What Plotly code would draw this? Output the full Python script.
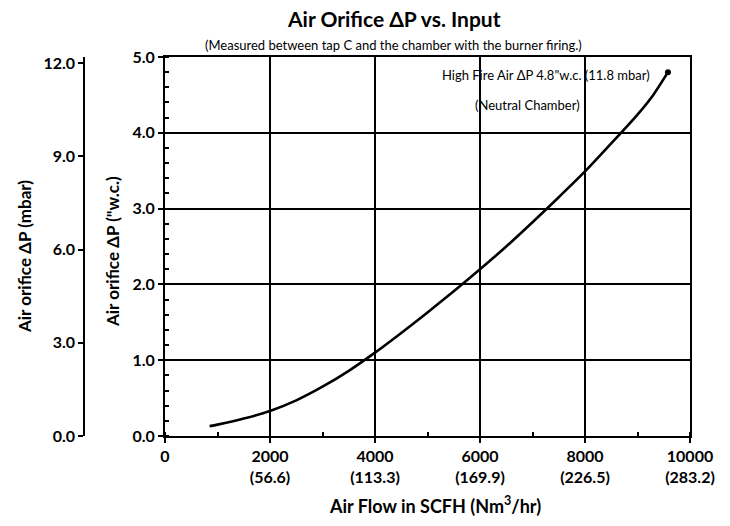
import plotly.graph_objects as go

# Data
flow_scfh = [850, 1000, 1500, 2000, 2500, 3000, 3500, 4000, 4500, 5000,
             5500, 6000, 6500, 7000, 7500, 8000, 8500, 9000, 9300, 9580]
dp_wc = [0.13, 0.15, 0.23, 0.33, 0.47, 0.65, 0.86, 1.10, 1.36, 1.63,
         1.91, 2.20, 2.50, 2.82, 3.15, 3.49, 3.86, 4.24, 4.50, 4.80]

x_tickvals = [0, 2000, 4000, 6000, 8000, 10000]
x_ticktext = ["0", "2000<br>(56.6)", "4000<br>(113.3)", "6000<br>(169.9)",
              "8000<br>(226.5)", "10000<br>(283.2)"]
y_tickvals = [0, 1, 2, 3, 4, 5]
y_ticktext = ["0.0", "1.0", "2.0", "3.0", "4.0", "5.0"]
mbar_tickvals = [0, 3, 6, 9, 12]
mbar_ticktext = ["0.0", "3.0", "6.0", "9.0", "12.0"]

FONT = "Lato"
W, H = 730, 526
ML, MR, MT, MB = 20, 40, 57, 90
PW = W - ML - MR
PH = H - MT - MB


def px(xpix):
    return (xpix - ML) / PW


def py(ypix):
    return (H - MB - ypix) / PH


fig = go.Figure()
fig.add_trace(go.Scatter(x=flow_scfh, y=dp_wc, mode="lines",
                         line=dict(color="black", width=2.6, shape="spline",
                                   smoothing=0.8),
                         showlegend=False, hoverinfo="skip"))
fig.add_trace(go.Scatter(x=[flow_scfh[-1]], y=[dp_wc[-1]], mode="markers",
                         marker=dict(color="black", size=6),
                         showlegend=False, hoverinfo="skip"))
# helper trace for the mbar axis
fig.add_trace(go.Scatter(x=[0], y=[0], yaxis="y2", mode="markers",
                         marker=dict(opacity=0), showlegend=False, hoverinfo="skip"))

mbar_top = 12 * 379 / (436 - 63)
TICKFONT = dict(family=FONT, size=16, weight="bold")
fig.update_layout(
    width=W, height=H,
    margin=dict(l=ML, r=MR, t=MT, b=MB),
    paper_bgcolor="white", plot_bgcolor="white",
    font=dict(family=FONT, color="black"),
    xaxis=dict(domain=[px(165), 1], range=[0, 10000], tickvals=x_tickvals,
               ticktext=x_ticktext, showgrid=True, gridcolor="black", gridwidth=1.5,
               showline=True, linecolor="black", linewidth=2, mirror=True,
               ticks="outside", ticklen=5, tickwidth=1.5, tickcolor="black",
               minor=dict(dtick=1000, ticks="inside", ticklen=4, tickwidth=1.5,
                          tickcolor="black", showgrid=False),
               tickfont=TICKFONT, zeroline=False, fixedrange=True),
    yaxis=dict(range=[0, 5], tickvals=y_tickvals, ticktext=y_ticktext,
               showgrid=True, gridcolor="black", gridwidth=1.5,
               showline=True, linecolor="black", linewidth=2, mirror=True,
               ticks="outside", ticklen=5, tickwidth=1.5, tickcolor="black",
               minor=dict(dtick=0.2, ticks="inside", ticklen=4, tickwidth=1.5,
                          tickcolor="black", showgrid=False),
               tickfont=TICKFONT, zeroline=False, fixedrange=True),
    yaxis2=dict(range=[0, mbar_top], anchor="free", overlaying="y",
                position=px(84), side="left", tickvals=mbar_tickvals,
                ticktext=mbar_ticktext,
                showline=True, linecolor="black", linewidth=1.5,
                ticks="outside", ticklen=5, tickwidth=1.5, tickcolor="black",
                showgrid=False, zeroline=False,
                tickfont=TICKFONT, fixedrange=True),
)

ann = [
    dict(text="<b>Air Orifice ΔP vs. Input</b>", x=px(394), y=py(18),
         font=dict(size=21)),
    dict(text="(Measured between tap C and the chamber with the burner firing.)",
         x=px(393), y=py(45), font=dict(size=13)),
    dict(text="<b>Air orifice ΔP (\"w.c.)</b>", x=px(112), y=py(252),
         textangle=-90, font=dict(size=17)),
    dict(text="<b>Air orifice ΔP (mbar)</b>", x=px(24), y=py(257),
         textangle=-90, font=dict(size=17)),
    dict(text="<b>Air Flow in SCFH (Nm<sup>3</sup>/hr)</b>", x=px(435), y=py(505),
         font=dict(size=18)),
    dict(text="High Fire Air ΔP 4.8\"w.c. (11.8 mbar)", x=px(652), y=py(75),
         xanchor="right", font=dict(size=13)),
    dict(text="(Neutral Chamber)", x=px(527), y=py(105), font=dict(size=13)),
]
for a in ann:
    a.setdefault("xanchor", "center")
    fig.add_annotation(xref="paper", yref="paper", showarrow=False,
                       yanchor="middle", **a)

fig.write_html("out.html", config={"displayModeBar": False},
               post_script="document.body.style.margin='0';")
